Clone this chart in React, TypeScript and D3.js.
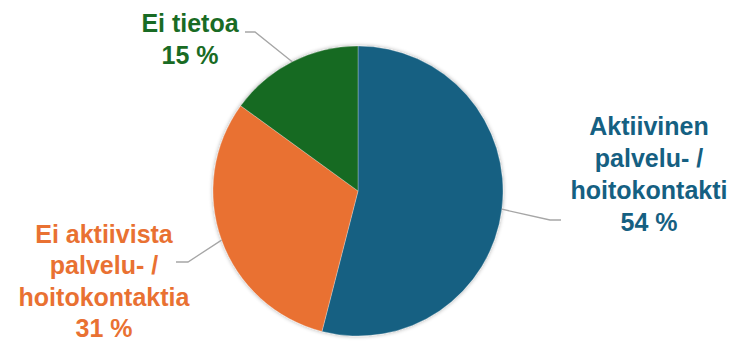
import React from "react";
import * as d3 from "d3";

const categories = ["Aktiivinen palvelu- / hoitokontakti", "Ei aktiivista palvelu- / hoitokontaktia", "Ei tietoa"];
const values = [54, 31, 15];
const labelLines = [
  ["Aktiivinen", "palvelu- /", "hoitokontakti", "54 %"],
  ["Ei aktiivista", "palvelu- /", "hoitokontaktia", "31 %"],
  ["Ei tietoa", "15 %"],
];
const colors = ["#156082", "#E97132", "#196B24"];

const W = 734, H = 344;
const cx = 358, cy = 191, R = 145;
// label layout: [textCenterX, firstBaselineY, elbowX, elbowY, endX, lineHeight]
const labelLayout = [
  [649, 135, 550, 220, 561, 32],
  [104, 243, 188, 262, 176, 31.3],
  [190, 31.5, 255, 32, 245, 32],
];

export default function App() {
  const pie = d3.pie<number>().value((d) => d).sort(null);
  const arcs = pie(values);
  const arcGen = d3.arc<d3.PieArcDatum<number>>().innerRadius(0).outerRadius(R);
  return (
    <svg width={W} height={H} style={{ position: "absolute", left: 0, top: 0, background: "#fff" }}
      fontFamily="'Liberation Sans', Arial, sans-serif">
      <defs>
        <filter id="sh" x="-20%" y="-20%" width="140%" height="140%">
          <feGaussianBlur in="SourceAlpha" stdDeviation="2" />
          <feOffset dx="0" dy="0" result="b" />
          <feComponentTransfer><feFuncA type="linear" slope="0.35" /></feComponentTransfer>
          <feMerge><feMergeNode /><feMergeNode in="SourceGraphic" /></feMerge>
        </filter>
      </defs>
      <g transform={`translate(${cx},${cy})`} filter="url(#sh)">
        {arcs.map((a, i) => (
          <path key={categories[i]} d={arcGen(a) || ""} fill={colors[i]} stroke="#ffffff" strokeOpacity={0.35} strokeWidth={0.8} />
        ))}
      </g>
      {arcs.map((a, i) => {
        const mid = (a.startAngle + a.endAngle) / 2;
        const sx = cx + R * Math.sin(mid);
        const sy = cy - R * Math.cos(mid);
        const [tx, ty, ex, ey, endX, lh] = labelLayout[i];
        return (
          <g key={"l" + i}>
            <polyline points={`${sx},${sy} ${ex},${ey} ${endX},${ey}`} fill="none" stroke="#a6a6a6" strokeWidth={1.3} />
            <text textAnchor="middle" fontWeight="bold" fontSize={25} fill={colors[i]}>
              {labelLines[i].map((t, j) => (
                <tspan key={j} x={tx} y={ty + j * lh}>{t}</tspan>
              ))}
            </text>
          </g>
        );
      })}
    </svg>
  );
}
